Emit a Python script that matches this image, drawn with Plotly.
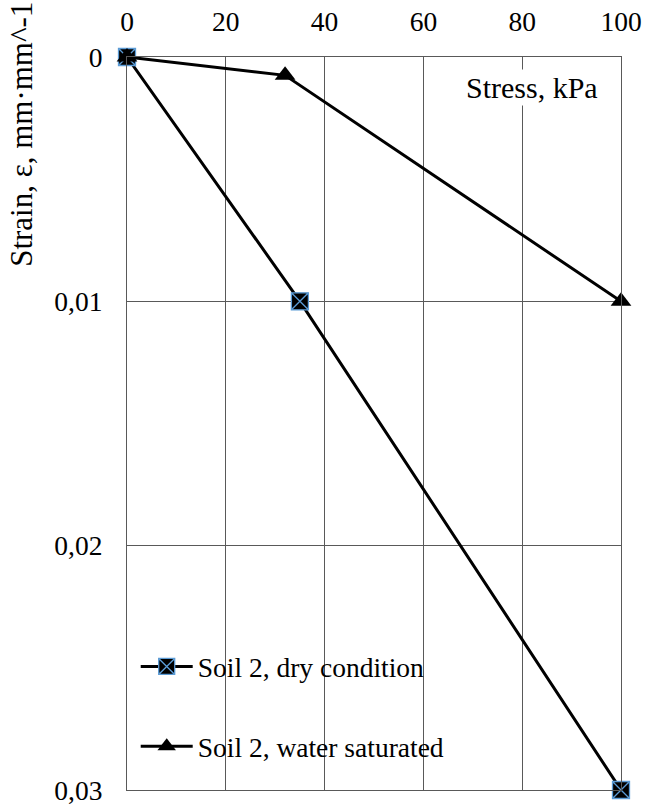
import plotly.graph_objects as go

# Data
dry_stress = [0, 35, 100]
dry_strain = [0, 0.01, 0.03]
wet_stress = [0, 32, 100]
wet_strain = [0, 0.00075, 0.01]

x_ticks = [0, 20, 40, 60, 80, 100]
y_tickvals = [0, 0.01, 0.02, 0.03]
y_ticktext = ["0", "0,01", "0,02", "0,03"]

FONT = "Liberation Serif"
GRID = "#595959"

fig = go.Figure()
fig.add_trace(go.Scatter(
    x=dry_stress, y=dry_strain, mode="lines+markers",
    name="Soil 2, dry condition", legendgroup="a",
    line=dict(color="black", width=3),
    marker=dict(symbol="square-x", size=17, color="black",
                line=dict(color="#5b9bd5", width=1.3)),
    cliponaxis=False,
))
fig.add_trace(go.Scatter(
    x=wet_stress, y=wet_strain, mode="lines+markers",
    name="Soil 2, water saturated", legendgroup="b",
    line=dict(color="black", width=3),
    marker=dict(symbol="triangle-up", size=18, color="black"),
    cliponaxis=False,
))

BOTTOM = 790.0
TOP = 56.7
H = BOTTOM - TOP
def py(p):
    return (BOTTOM - p) / H
def px(p):
    return (p - 127.3) / 493.5

fig.update_layout(
    width=645, height=805,
    margin=dict(l=127, r=24, t=57, b=15),
    paper_bgcolor="white", plot_bgcolor="white",
    font=dict(family=FONT, size=27, color="black"),
    xaxis=dict(side="top", range=[-0.0001, 100.0001], tickvals=x_ticks,
               showgrid=True, gridcolor=GRID, gridwidth=1.2,
               showline=True, linecolor=GRID, linewidth=1.2, mirror=True,
               zeroline=False, ticks="", ticklabelstandoff=14,
               automargin=False,
               tickfont=dict(family=FONT, size=27.5, color="black")),
    yaxis=dict(range=[0.0300001, -0.0000001], tickvals=y_tickvals, ticktext=y_ticktext,
               showgrid=True, gridcolor=GRID, gridwidth=1.2,
               showline=True, linecolor=GRID, linewidth=1.2, mirror=True,
               zeroline=False, ticks="", ticklabelstandoff=18,
               automargin=False, ticklabeloverflow="allow",
               tickfont=dict(family=FONT, size=27.5, color="black")),
    showlegend=True,
    legend=dict(x=px(136), xanchor="left", y=py(642), yanchor="top",
                bgcolor="rgba(0,0,0,0)", borderwidth=0,
                tracegroupgap=41, itemwidth=52,
                font=dict(family=FONT, size=27.5, color="black")),
    shapes=[dict(type="rect", xref="paper", yref="paper",
                 x0=px(128), x1=px(470), y0=py(786), y1=py(628),
                 fillcolor="white", line=dict(width=0), layer="between")],
    annotations=[
        dict(text="Stress, kPa", x=px(600), y=py(87), xref="paper", yref="paper",
             xanchor="right", yanchor="middle", showarrow=False,
             bgcolor="white", font=dict(family=FONT, size=30, color="black")),
        dict(text="Strain, ε, mm·mm^-1", x=px(22), y=py(134), xref="paper", yref="paper",
             xanchor="center", yanchor="middle", showarrow=False, textangle=-90,
             font=dict(family=FONT, size=31, color="black")),
    ],
)

fig.write_html("out.html")
